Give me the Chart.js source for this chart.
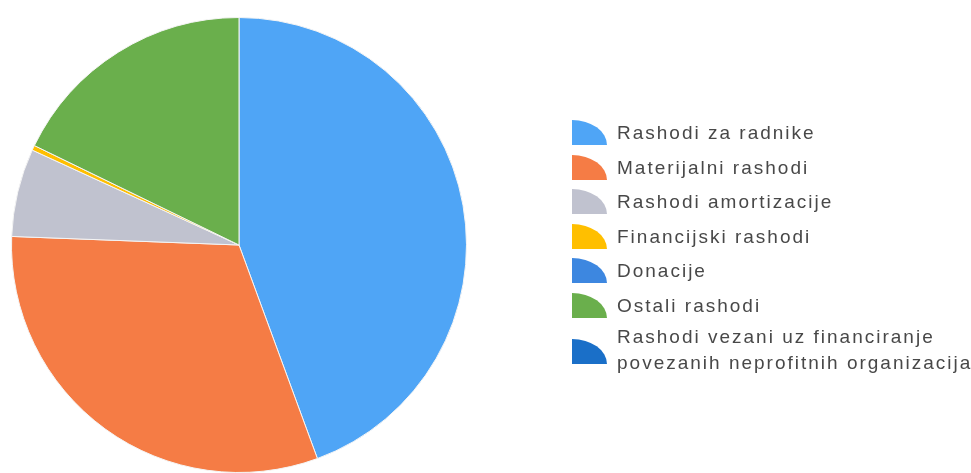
<!DOCTYPE html>
<html>
<head>
<meta charset="utf-8">
<script src="https://cdn.jsdelivr.net/npm/chart.js@4"></script>
<style>
  html, body { margin: 0; padding: 0; background: #fff; }
  #wrap { position: relative; width: 971px; height: 473px; }
  #legend { position: absolute; left: 572px; top: 0; font-family: "Liberation Sans", Arial, sans-serif; font-size: 19px; letter-spacing: 2px; color: #484848; }
  .item { position: absolute; left: 0; white-space: nowrap; }
  .box { position: absolute; left: 0; width: 35px; height: 25px; border-top-right-radius: 35px 25px; }
  .txt { position: absolute; left: 45px; line-height: 25.5px; }
</style>
</head>
<body>
<div id="wrap">
  <canvas id="myChart" width="971" height="473"></canvas>
  <div id="legend"></div>
</div>
<script>
var categories = [
  "Rashodi za radnike",
  "Materijalni rashodi",
  "Rashodi amortizacije",
  "Financijski rashodi",
  "Donacije",
  "Ostali rashodi",
  ["Rashodi vezani uz financiranje", "povezanih neprofitnih organizacija"]
];
var values = [44.4, 31.2, 6.25, 0.35, 0, 17.8, 0];
var colors = ["#4fa5f6", "#f57c45", "#c0c2cf", "#ffbf00", "#3d87e0", "#6aaf4c", "#1a6fc8"];

const chart = new Chart(document.getElementById("myChart"), {
  type: "pie",
  data: {
    labels: categories,
    datasets: [{
      data: values,
      backgroundColor: colors,
      borderColor: "#f4f4f4",
      borderWidth: 1
    }]
  },
  options: {
    responsive: false,
    animation: false,
    layout: { padding: { left: 11, right: 504, top: 17, bottom: 0 } },
    plugins: {
      legend: { display: false },
      tooltip: { enabled: false }
    }
  }
});

// legend drawn as html, one row per category
const legend = document.getElementById("legend");
const rowTop = 120;
const rowStep = 34.5;
categories.forEach((cat, i) => {
  const item = document.createElement("div");
  item.className = "item";
  const box = document.createElement("div");
  box.className = "box";
  box.style.background = colors[i];
  const txt = document.createElement("div");
  txt.className = "txt";
  if (Array.isArray(cat)) {
    txt.innerHTML = cat.join("<br>");
    box.style.top = (rowTop + rowStep * i + 12) + "px";
    txt.style.top = (rowTop + rowStep * i - 3) + "px";
  } else {
    txt.textContent = cat;
    box.style.top = (rowTop + rowStep * i) + "px";
    txt.style.top = (rowTop + rowStep * i) + "px";
  }
  item.appendChild(box);
  item.appendChild(txt);
  legend.appendChild(item);
});
</script>
</body>
</html>
